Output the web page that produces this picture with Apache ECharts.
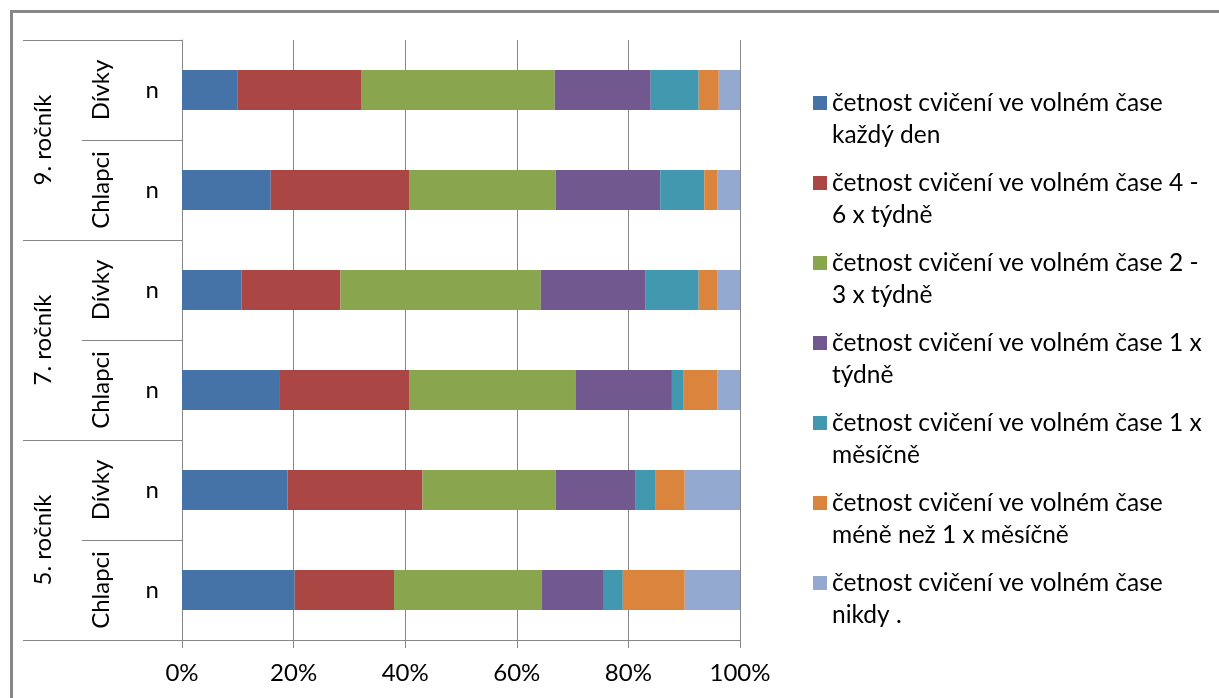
<!DOCTYPE html>
<html>
<head>
<meta charset="utf-8">
<script src="https://cdn.jsdelivr.net/npm/echarts@6/dist/echarts.min.js"></script>
<style>
  html, body { margin: 0; padding: 0; background: #fff; overflow: hidden; }
  #chart { position: absolute; left: 0; top: 0; width: 1219px; height: 698px; }
  #frame { position: absolute; left: 10px; top: 10px; width: 1400px; height: 900px;
           border: 3px solid #878787; pointer-events: none; }
</style>
</head>
<body>
<div id="chart"></div>
<div id="frame"></div>
<script>
// Rows from bottom to top: 5. Chlapci, 5. Dívky, 7. Chlapci, 7. Dívky, 9. Chlapci, 9. Dívky
const rowLabels = ['n', 'n', 'n', 'n', 'n', 'n'];
const genders = ['Chlapci', 'Dívky', 'Chlapci', 'Dívky', 'Chlapci', 'Dívky'];
const grades = ['5. ročník', '7. ročník', '9. ročník'];
const xTicks = [0, 20, 40, 60, 80, 100];

const seriesNames = [
  'četnost cvičení ve volném čase každý den',
  'četnost cvičení ve volném čase 4 - 6 x týdně',
  'četnost cvičení ve volném čase 2 - 3 x týdně',
  'četnost cvičení ve volném čase 1 x týdně',
  'četnost cvičení ve volném čase 1 x měsíčně',
  'četnost cvičení ve volném čase méně než 1 x měsíčně',
  'četnost cvičení ve volném čase nikdy .'
];

// shares in percent per row
const kazdyDen   = [20.2, 18.9, 17.4, 10.7, 15.9, 10.0];
const tydne4az6  = [17.8, 24.2, 23.4, 17.7, 24.9, 22.2];
const tydne2az3  = [26.5, 23.9, 29.8, 35.9, 26.2, 34.6];
const tydne1     = [11.1, 14.2, 17.2, 18.8, 18.7, 17.2];
const mesicne1   = [3.4, 3.7, 2.0, 9.5, 7.9, 8.6];
const meneNez1   = [11.1, 5.2, 6.2, 3.3, 2.4, 3.6];
const nikdy      = [9.9, 9.9, 4.0, 4.1, 4.0, 3.8];

const seriesValues = [kazdyDen, tydne4az6, tydne2az3, tydne1, mesicne1, meneNez1, nikdy];
const colors = ['#4572A7', '#AA4643', '#89A54E', '#71588F', '#4198AF', '#DB843D', '#93A9CF'];

const FONT = 'Lato';
const GRAY = '#878787';

function wrapWords(text, maxChars) {
  const words = text.split(' ');
  const lines = [];
  let cur = '';
  words.forEach(w => {
    const next = cur ? cur + ' ' + w : w;
    if (next.length > maxChars && cur) { lines.push(cur); cur = w; }
    else cur = next;
  });
  if (cur) lines.push(cur);
  return lines;
}

const chart = echarts.init(document.getElementById('chart'), null, { renderer: 'canvas' });

const textBase = { fontFamily: FONT, fontSize: 24, color: '#000' };

chart.setOption({
  animation: false,
  grid: { left: 182, right: 479, top: 40, bottom: 58, containLabel: false },
  legend: {
    orient: 'vertical',
    left: 813,
    top: 55,
    padding: 0,
    itemGap: -16,
    itemWidth: 14,
    itemHeight: 14,
    icon: 'rect',
    selectedMode: false,
    data: seriesNames,
    // a blank leading line keeps the marker level with the first text line
    formatter: name => [' '].concat(wrapWords(name, 34)).join('\n'),
    textStyle: Object.assign({}, textBase, { fontSize: 24.5, lineHeight: 32 })
  },
  xAxis: {
    type: 'value',
    min: 0,
    max: 100,
    interval: 20,
    axisLine: { show: true, lineStyle: { color: GRAY, width: 1 } },
    axisTick: { show: true, length: 8, lineStyle: { color: GRAY } },
    splitLine: { show: true, lineStyle: { color: GRAY, width: 1 } },
    axisLabel: Object.assign({}, textBase, {
      margin: 21,
      formatter: v => (xTicks.includes(v) ? v + '%' : '')
    })
  },
  yAxis: [
    {
      type: 'category',
      position: 'left',
      data: rowLabels,
      axisLine: { show: true, lineStyle: { color: GRAY, width: 1 } },
      axisTick: { show: true, length: 100, interval: 0, lineStyle: { color: GRAY } },
      axisLabel: Object.assign({}, textBase, { margin: 23, interval: 0 }),
      splitLine: { show: false }
    },
    {
      type: 'category',
      position: 'left',
      offset: 0,
      data: genders,
      axisLine: { show: false },
      axisTick: { show: false },
      axisLabel: Object.assign({}, textBase, { rotate: 90, margin: 68, interval: 0, lineHeight: 26 }),
      splitLine: { show: false }
    },
    {
      type: 'category',
      position: 'left',
      offset: 0,
      data: grades,
      axisLine: { show: false },
      axisTick: { show: true, length: 159, interval: 0, lineStyle: { color: GRAY } },
      axisLabel: Object.assign({}, textBase, { rotate: 90, margin: 126, interval: 0, lineHeight: 26 }),
      splitLine: { show: false }
    }
  ],
  series: seriesNames.map((name, i) => ({
    name: name,
    type: 'bar',
    stack: 'total',
    yAxisIndex: 0,
    barWidth: '40%',
    itemStyle: { color: colors[i] },
    emphasis: { disabled: true },
    data: seriesValues[i]
  }))
});
</script>
</body>
</html>
